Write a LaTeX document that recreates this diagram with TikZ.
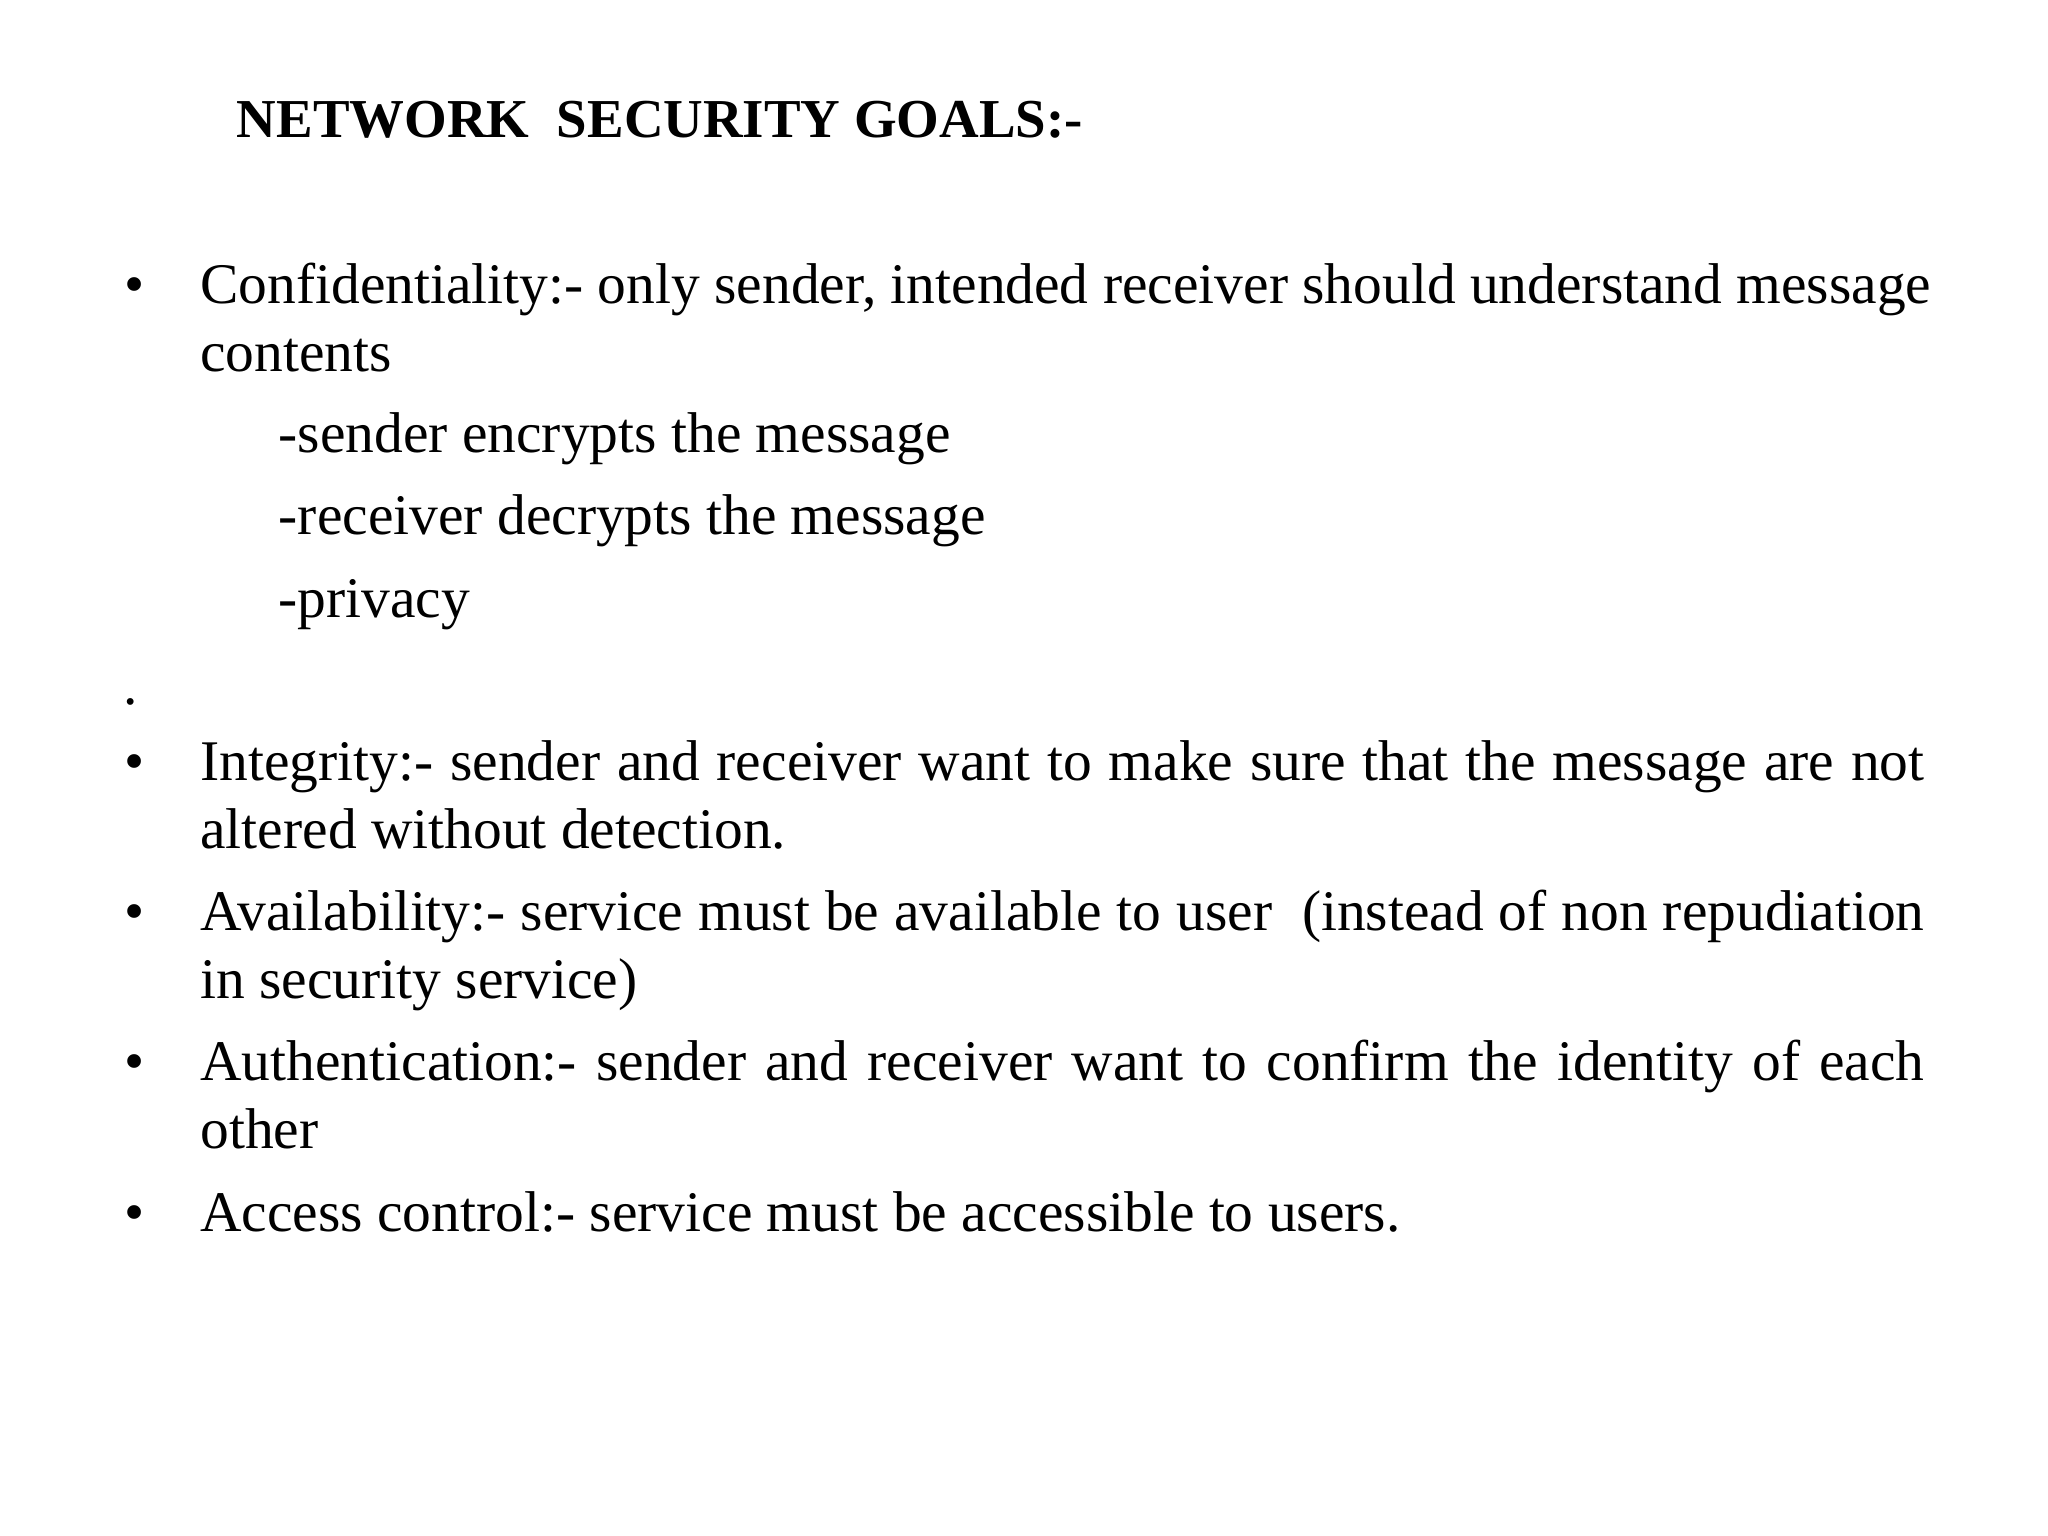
\documentclass[tikz,border=0pt]{standalone}
\usepackage{fontspec}
\setmainfont{Liberation Serif}
\begin{document}
\begin{tikzpicture}[x=0.5pt,y=-0.5pt,
  txt/.style={anchor=mid west,inner sep=0pt,font=\fontsize{22pt}{26pt}\selectfont},
  ttl/.style={anchor=mid west,inner sep=0pt,font=\fontsize{21pt}{26pt}\selectfont\bfseries},
  bul/.style={anchor=mid west,inner sep=0pt,font=\fontsize{22pt}{26pt}\selectfont}]
\useasboundingbox (0,0) rectangle (1568,1176);
\fill[white] (0,0) rectangle (1568,1176);
\node[ttl] (title) at (181,101) {NETWORK\ \ SECURITY GOALS:-};
\node[bul] (b1) at (95,228) {•};
\node[txt] (l1) at (153,228) {Confidentiality:- only sender, intended receiver should understand message};
\node[txt] (l2) at (153,280) {contents};
\node[txt] (s1) at (213,342) {-sender encrypts the message};
\node[txt] (s2) at (213,405) {-receiver decrypts the message};
\node[txt] (s3) at (213,468) {-privacy};
\node[txt] (dot) at (94,535) {.};
\node[bul] (b2) at (95,593) {•};
\node[txt] (l3) at (153,593) {\makebox[660pt][s]{Integrity:- sender and receiver want to make sure that the message are not}};
\node[txt] (l4) at (153,645) {altered without detection.};
\node[bul] (b3) at (95,708) {•};
\node[txt] (l5) at (153,708) {\makebox[660pt][s]{Availability:- service must be available to user\ \ (instead of non repudiation}};
\node[txt] (l6) at (153,760) {in security service)};
\node[bul] (b4) at (95,823) {•};
\node[txt] (l7) at (153,823) {\makebox[660pt][s]{Authentication:- sender and receiver want to confirm the identity of each}};
\node[txt] (l8) at (153,875) {other};
\node[bul] (b5) at (95,938) {•};
\node[txt] (l9) at (153,938) {Access control:- service must be accessible to users.};
\end{tikzpicture}
\end{document}
